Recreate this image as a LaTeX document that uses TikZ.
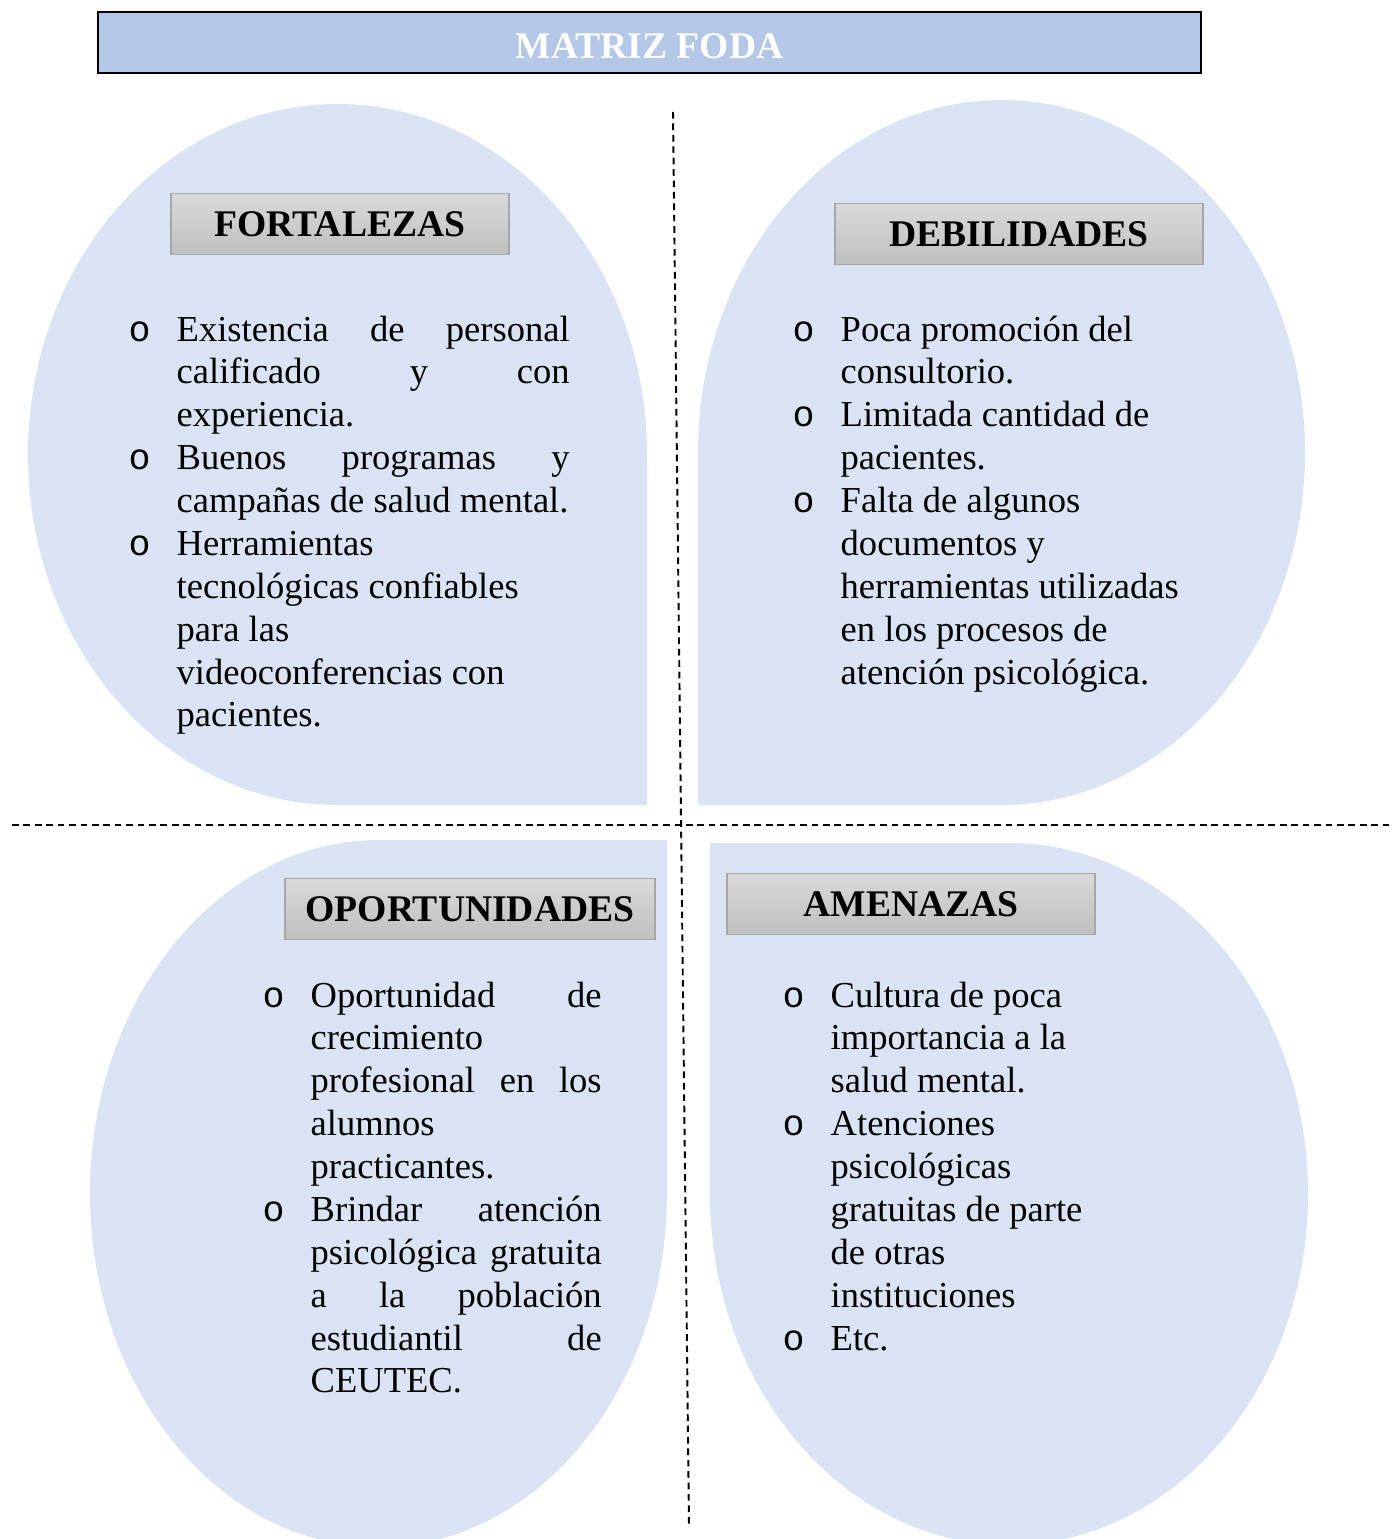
\documentclass[tikz,border=0pt]{standalone}
\usepackage{fontspec}
\setmainfont{Liberation Serif}
\setmonofont{Liberation Mono}
\usetikzlibrary{positioning}
\definecolor{fodaBlob}{HTML}{DAE3F3}
\definecolor{fodaTitle}{HTML}{B4C7E7}
\definecolor{fodaEdge}{HTML}{A6A6A6}
\newcommand{\fodafont}{\fontsize{10.4pt}{12.2pt}\selectfont}
\newcommand{\headfont}{\fontsize{10.7pt}{12.2pt}\selectfont\bfseries}
\newcommand{\bul}{\leavevmode\llap{\makebox[0.48cm][l]{\ttfamily o}}}

\begin{document}
\begin{tikzpicture}[
  every node/.style={font=\fodafont},
  blob/.style={fill=fodaBlob},
  titlebox/.style={rectangle, draw=black, line width=0.8pt, fill=fodaTitle, minimum width=11.03cm, minimum height=0.61cm, text height=9.2pt, text depth=0pt, text=white, font=\headfont},
  header/.style={rectangle, draw=fodaEdge, line width=0.4pt, top color=gray!30, bottom color=gray!50, minimum height=0.61cm, font=\headfont},
  list/.style={anchor=base west, inner sep=0pt},
  divider/.style={line width=0.55pt, dash pattern=on 1.9pt off 1.35pt},
]
\useasboundingbox (0,0) rectangle (13.97,-15.39);

% === QUADRANT SHAPES ===
\fill[blob] (6.47,-8.05) -- (3.375,-8.05) arc[start angle=270, end angle=180, x radius=3.095cm, y radius=3.505cm]
  arc[start angle=180, end angle=90, x radius=3.095cm, y radius=3.505cm]
  arc[start angle=90, end angle=0, x radius=3.095cm, y radius=3.505cm] -- cycle;
\fill[blob] (6.98,-8.05) -- (6.98,-4.525) arc[start angle=180, end angle=90, x radius=3.035cm, y radius=3.525cm]
  arc[start angle=90, end angle=0, x radius=3.035cm, y radius=3.525cm]
  arc[start angle=0, end angle=-90, x radius=3.035cm, y radius=3.525cm] -- cycle;
\fill[blob] (6.67,-8.40) -- (3.785,-8.40) arc[start angle=90, end angle=180, x radius=2.885cm, y radius=3.535cm]
  arc[start angle=180, end angle=270, x radius=2.885cm, y radius=3.535cm]
  arc[start angle=270, end angle=360, x radius=2.885cm, y radius=3.535cm] -- cycle;
\fill[blob] (7.10,-8.43) -- (7.10,-11.94) arc[start angle=180, end angle=270, x radius=2.99cm, y radius=3.51cm]
  arc[start angle=270, end angle=360, x radius=2.99cm, y radius=3.51cm]
  arc[start angle=0, end angle=90, x radius=2.99cm, y radius=3.51cm] -- cycle;

% === DIVIDERS ===
\coordinate (vtop) at (6.73,-1.12);
\coordinate (vbot) at (6.89,-15.25);
\coordinate (hleft) at (0.12,-8.25);
\coordinate (hright) at (13.93,-8.25);
\draw[divider] (vtop) -- (vbot);
\draw[divider] (hleft) -- (hright);

% Title
\node[titlebox] (title) at (6.495,-0.425) {MATRIZ FODA};

% === HEADERS ===
\node[header, minimum width=3.38cm] (fort) at (3.40,-2.24) {FORTALEZAS};
\node[header, minimum width=3.68cm] (deb) at (10.19,-2.34) {DEBILIDADES};
\node[header, minimum width=3.70cm] (oport) at (4.70,-9.09) {OPORTUNIDADES};
\node[header, minimum width=3.68cm] (amen) at (9.11,-9.04) {AMENAZAS};

% === LISTS ===
\node[list] (fortlist) at (1.76,-3.41) {\parbox[t]{3.93cm}{%
\bul Existencia\hfill de\hfill personal\\
calificado\hfill y\hfill con\\
experiencia.\\
\bul Buenos\hfill programas\hfill y\\
campañas de salud mental.\\
\bul Herramientas\\
tecnológicas confiables\\
para las\\
videoconferencias con\\
pacientes.}};

\node[list] (deblist) at (8.40,-3.41) {\parbox[t]{3.6cm}{%
\bul Poca promoción del\\
consultorio.\\
\bul Limitada cantidad de\\
pacientes.\\
\bul Falta de algunos\\
documentos y\\
herramientas utilizadas\\
en los procesos de\\
atención psicológica.}};

\node[list] (oportlist) at (3.10,-10.07) {\parbox[t]{2.91cm}{%
\bul Oportunidad\hfill de\\
crecimiento\\
profesional\hfill en\hfill los\\
alumnos\\
practicantes.\\
\bul Brindar\hfill atención\\
psicológica\hfill gratuita\\
a\hfill la\hfill población\\
estudiantil\hfill de\\
CEUTEC.}};

\node[list] (amenlist) at (8.30,-10.07) {\parbox[t]{3.5cm}{%
\bul Cultura de poca\\
importancia a la\\
salud mental.\\
\bul Atenciones\\
psicológicas\\
gratuitas de parte\\
de otras\\
instituciones\\
\bul Etc.}};

\end{tikzpicture}
\end{document}
